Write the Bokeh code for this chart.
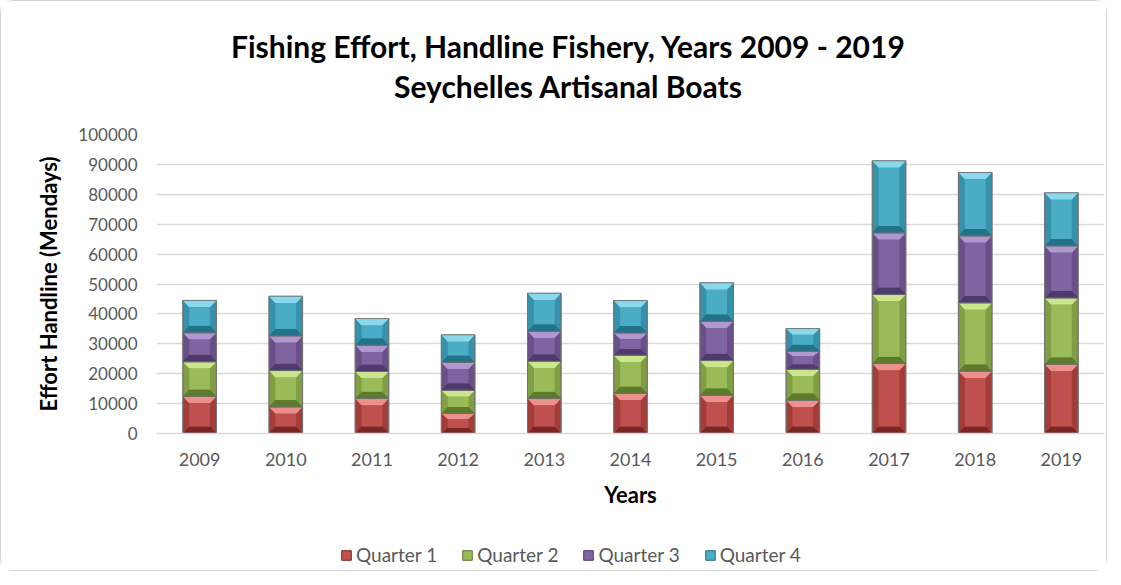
import numpy as np
from bokeh.plotting import figure
from bokeh.layouts import column
from bokeh.models import (Range1d, FixedTicker, Legend, LegendItem,
                          BasicTickFormatter)
from bokeh.core.properties import value
from bokeh.embed import file_html
from bokeh.resources import INLINE

years = ["2009", "2010", "2011", "2012", "2013", "2014", "2015", "2016", "2017", "2018", "2019"]
quarters = ["Quarter 1", "Quarter 2", "Quarter 3", "Quarter 4"]
q1 = [12400, 8900, 11700, 6700, 11700, 13400, 12800, 11150, 23400, 20850, 23200]
q2 = [11600, 12150, 9050, 7800, 12500, 12800, 11600, 10350, 23100, 22850, 22150]
q3 = [9700, 11600, 8800, 9250, 10000, 7450, 13150, 6050, 20600, 22400, 17400]
q4 = [10800, 13250, 8900, 9250, 12700, 10800, 12850, 7550, 24100, 21200, 17750]
y_ticks = [0, 10000, 20000, 30000, 40000, 50000, 60000, 70000, 80000, 90000, 100000]
title_lines = ["Fishing Effort, Handline Fishery, Years 2009 - 2019",
               "Seychelles Artisanal Boats"]

base_cols = ["#C0504D", "#9BBB59", "#8064A2", "#4BACC6"]
light_cols = ["#EC908D", "#CBE58C", "#B197CF", "#8AD8EC"]
dark_cols = ["#7A2624", "#5E7A2C", "#4F3A6C", "#22738A"]
mid_cols = ["#A23D3A", "#809F44", "#6A5089", "#3692AB"]

FONT = "Lato"
W = 1105
FRAME_L, FRAME_R = 155, 1103
H_T, H_M, H_L = 110, 420, 39

# ---------- title strip ----------
pt = figure(width=W, height=H_T, output_backend="svg", toolbar_location=None,
            x_range=Range1d(FRAME_L, FRAME_R), y_range=Range1d(H_T, 0),
            x_axis_location=None, y_axis_location=None,
            min_border_left=FRAME_L, min_border_right=W - FRAME_R,
            min_border_top=0, min_border_bottom=0)
pt.grid.visible = False
pt.outline_line_color = None
pt.text(x=[567, 567], y=[44, 84], text=title_lines, text_font=value(FONT),
        text_font_size="30px", text_font_style="bold", text_color="black",
        text_align="center", text_baseline="middle")

# ---------- main chart ----------
p = figure(width=W, height=H_M, output_backend="svg", toolbar_location=None,
           x_range=Range1d(-0.5, len(years) - 0.5), y_range=Range1d(0, 100000),
           min_border_left=FRAME_L, min_border_right=W - FRAME_R, min_border_top=23,
           min_border_bottom=98)
p.outline_line_color = None

xs = np.arange(len(years), dtype=float)
w = 0.39
bx = 0.075
series = [np.array(q1, float), np.array(q2, float), np.array(q3, float), np.array(q4, float)]
bottom = np.zeros(len(years))
for k, vals in enumerate(series):
    top = bottom + vals
    by = np.minimum(2300.0, vals * 0.28)
    p.vbar(x=xs, width=w, bottom=bottom, top=top, fill_color=mid_cols[k],
           line_color="#6f6f6f", line_width=0.8)
    p.patches(xs=[[x - w / 2, x + w / 2, x + w / 2 - bx, x - w / 2 + bx] for x in xs],
              ys=[[b, b, b + d, b + d] for b, d in zip(bottom, by)],
              fill_color=dark_cols[k], line_color=None)
    p.patches(xs=[[x - w / 2, x + w / 2, x + w / 2 - bx, x - w / 2 + bx] for x in xs],
              ys=[[t, t, t - d, t - d] for t, d in zip(top, by)],
              fill_color=light_cols[k], line_color=None)
    p.vbar(x=xs, width=w - 2 * bx, bottom=bottom + by, top=top - by,
           fill_color=base_cols[k], line_color=None)
    p.vbar(x=xs, width=w, bottom=bottom, top=top, fill_color=None,
           line_color="#6f6f6f", line_width=0.8)
    bottom = top

p.xaxis.ticker = FixedTicker(ticks=list(xs))
p.xaxis.major_label_overrides = {i: y for i, y in enumerate(years)}
p.yaxis.ticker = FixedTicker(ticks=y_ticks)
p.yaxis.formatter = BasicTickFormatter(use_scientific=False)
for ax in (p.xaxis, p.yaxis):
    ax.major_tick_line_color = None
    ax.minor_tick_line_color = None
    ax.major_label_text_font = FONT
    ax.major_label_text_font_size = "17px"
    ax.major_label_text_color = "#595959"
    ax.axis_label_text_font = FONT
    ax.axis_label_text_font_style = "bold"
    ax.axis_label_text_color = "black"
    ax.axis_label_text_font_size = "22px"
p.xaxis.major_label_text_font_size = "18px"
p.yaxis.axis_line_color = None
p.xaxis.axis_line_color = "#d9d9d9"
p.xaxis.axis_line_width = 1.5
p.yaxis.axis_label = "Effort Handline (Mendays)"
p.xaxis.axis_label = "Years"
p.yaxis.major_label_standoff = 13
p.yaxis.axis_label_standoff = 13
p.xaxis.major_label_standoff = 13
p.xaxis.axis_label_standoff = 12
p.xgrid.grid_line_color = None
p.ygrid.grid_line_color = "#d9d9d9"
p.ygrid.grid_line_width = 1.5
p.ygrid.ticker = FixedTicker(ticks=y_ticks)

# ---------- legend strip ----------
pl = figure(width=W, height=H_L, output_backend="svg", toolbar_location=None,
            x_range=Range1d(0, 1), y_range=Range1d(0, 1),
            x_axis_location=None, y_axis_location=None,
            min_border_left=FRAME_L, min_border_right=W - FRAME_R,
            min_border_top=0, min_border_bottom=0)
pl.grid.visible = False
pl.outline_line_color = None
items = []
for k, q in enumerate(quarters):
    # proxy renderer with no drawable geometry, only used to draw the legend swatch
    r = pl.vbar(x=np.array([np.nan]), top=np.array([np.nan]), bottom=np.array([np.nan]),
                width=0.1, fill_color=base_cols[k], line_color=dark_cols[k], line_width=1)
    items.append(LegendItem(label=q, renderers=[r]))
legend = Legend(items=items, orientation="horizontal", location=(184, 4),
                label_text_font=FONT, label_text_font_size="19px",
                label_text_color="#595959", glyph_width=12, glyph_height=12,
                spacing=24, label_standoff=4, border_line_color=None,
                background_fill_alpha=0, margin=0, padding=0)
pl.add_layout(legend, "center")

layout = column(pt, p, pl, spacing=0,
                styles={"border": "1px solid #d4d4d4", "border-radius": "12px"})
open("out.html", "w").write(file_html(layout, INLINE))
